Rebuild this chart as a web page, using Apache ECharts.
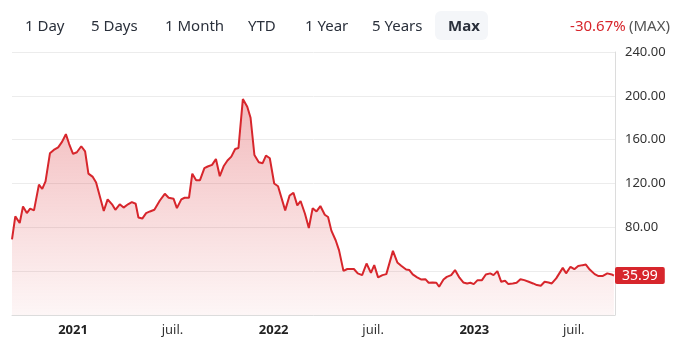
<!DOCTYPE html>
<html>
<head>
<meta charset="utf-8">
<script src="https://cdn.jsdelivr.net/npm/echarts@6/dist/echarts.min.js"></script>
<style>
html, body { margin: 0; padding: 0; background: #fff; }
#main { width: 673px; height: 353px; }
</style>
</head>
<body>
<div id="main"></div>
<script>
// weekly closes
var dates = ['2020-09-12','2020-09-18','2020-09-26','2020-10-02','2020-10-09','2020-10-15','2020-10-22','2020-10-31',
  '2020-11-06','2020-11-12','2020-11-20','2020-11-27','2020-12-05','2020-12-12','2020-12-19','2020-12-25',
  '2021-01-01','2021-01-08','2021-01-16','2021-01-23','2021-01-29','2021-02-06','2021-02-12','2021-02-26',
  '2021-03-05','2021-03-13','2021-03-19','2021-03-27','2021-04-03','2021-04-11','2021-04-18','2021-04-25',
  '2021-04-30','2021-05-07','2021-05-14','2021-05-21','2021-05-29','2021-06-08','2021-06-17','2021-06-24',
  '2021-07-03','2021-07-09','2021-07-17','2021-07-23','2021-07-31','2021-08-06','2021-08-13','2021-08-20',
  '2021-08-28','2021-09-03','2021-09-11','2021-09-18','2021-09-25','2021-10-02','2021-10-09','2021-10-16',
  '2021-10-23','2021-10-29','2021-11-06','2021-11-14','2021-11-20','2021-11-27','2021-12-05','2021-12-12',
  '2021-12-18','2021-12-25','2022-01-02','2022-01-09','2022-01-22','2022-01-30','2022-02-06','2022-02-13',
  '2022-02-19','2022-02-27','2022-03-06','2022-03-13','2022-03-20','2022-03-27','2022-04-04','2022-04-10',
  '2022-04-16','2022-04-24','2022-04-30','2022-05-08','2022-05-15','2022-05-27','2022-06-03','2022-06-11',
  '2022-06-19','2022-06-27','2022-07-03','2022-07-10','2022-07-18','2022-07-25','2022-08-06','2022-08-14',
  '2022-08-21','2022-08-30','2022-09-05','2022-09-11','2022-09-19','2022-09-26','2022-10-04','2022-10-10',
  '2022-10-17','2022-10-24','2022-10-29','2022-11-06','2022-11-12','2022-11-20','2022-11-27','2022-12-05',
  '2022-12-12','2022-12-19','2022-12-25','2022-12-31','2023-01-07','2023-01-15','2023-01-22','2023-01-30',
  '2023-02-05','2023-02-12','2023-02-19','2023-02-26','2023-03-04','2023-03-12','2023-03-19','2023-03-26',
  '2023-04-02','2023-04-10','2023-04-18','2023-04-25','2023-05-02','2023-05-09','2023-05-16','2023-05-22',
  '2023-05-30','2023-06-11','2023-06-17','2023-06-25','2023-07-02','2023-07-09','2023-07-17','2023-07-23',
  '2023-07-30','2023-08-08','2023-08-15','2023-08-23','2023-08-31','2023-09-08','2023-09-12'];
var prices = [69,90,84,99,93,97,95.5,119,
  115,122,147.5,150.6,153,158,165,156,
  147,148.5,154,149.4,129,126,121,95,
  105.5,101,96,101,98,101,103,101.5,
  89,88,93,94.5,96,104.5,110.6,107,
  106,97.5,105.5,107,107,129,123,123,
  134,135.5,137,142.4,126.7,135.7,141,144.5,
  151.5,152.4,197,190,180,146,139.4,138.5,
  145.5,143,120,117.5,95.5,109,111.5,100,
  104,92.4,79.4,97.5,94.5,99.4,91.5,89.4,
  77,68,59,40.3,42,42,38,36.4,
  47,38.5,45.5,34.3,36.4,37.3,58.5,48,
  45,41.5,41,37,34.3,32.4,32.7,29.4,
  29.7,29.4,25.8,32.4,34.8,36.4,41,34,
  29.7,28.8,29.4,28.2,31.8,31.8,37,38,
  36.4,40,30.3,31.2,28.2,28.8,29.4,32.7,
  31.8,30.3,28.8,27.3,26.7,30.3,29.7,28.8,
  33.4,43,38,44,41.8,44.8,45.5,46,
  41.5,37.3,35.5,35.7,38,37,35.99];
var xTicks = ['2021-01-01','2021-07-01','2022-01-01','2022-07-01','2023-01-01','2023-07-01'];
var ranges = ['1 Day','5 Days','1 Month','YTD','1 Year','5 Years','Max'];
var lastPrice = 35.99;
var changeText = '-30.67%';

function ts(s) { return new Date(s + 'T00:00:00').getTime(); }

var red = '#d7262c';
var font = '"Noto Sans", "Open Sans", sans-serif';

var rangeX = [25, 91, 165, 248, 305, 372, 448];
var graphics = [{
  type: 'rect', shape: { x: 435, y: 11, width: 53, height: 29, r: 6 },
  style: { fill: '#f4f6f9' }
}];
ranges.forEach(function (r, i) {
  graphics.push({
    type: 'text', x: rangeX[i], y: 27,
    style: {
      text: r, fill: '#2a303b', font: (r === 'Max' ? 'bold ' : '') + '15px ' + font,
      verticalAlign: 'middle'
    }
  });
});
graphics.push({
  type: 'text', x: 670, y: 27,
  style: {
    text: '{r|' + changeText + '} {g|(MAX)}', align: 'right', verticalAlign: 'middle',
    rich: {
      r: { fill: red, fontSize: 15, fontFamily: font },
      g: { fill: '#555', fontSize: 15, fontFamily: font }
    }
  }
});

var chart = echarts.init(document.getElementById('main'));
chart.setOption({
  animation: false,
  textStyle: { fontFamily: font },
  graphic: graphics,
  grid: { left: 12, right: 58, top: 52, bottom: 38 },
  xAxis: {
    type: 'value',
    min: ts('2020-09-12'),
    max: ts('2023-09-14'),
    axisLine: { show: true, lineStyle: { color: '#dcdcdc' } },
    axisTick: { show: false },
    splitLine: { show: false },
    axisLabel: {
      customValues: xTicks.map(ts),
      margin: 9,
      color: '#333',
      fontSize: 13,
      formatter: function (v) {
        var d = new Date(v);
        return d.getMonth() === 0 ? '{y|' + d.getFullYear() + '}' : 'juil.';
      },
      rich: { y: { fontWeight: 'bold', fontSize: 13, color: '#222' } }
    }
  },
  yAxis: {
    type: 'value',
    position: 'right',
    min: 0,
    max: 240,
    interval: 40,
    axisLine: { show: true, lineStyle: { color: '#dcdcdc' } },
    axisTick: { show: false },
    splitLine: { lineStyle: { color: '#ececec' } },
    axisLabel: {
      margin: 10,
      color: '#333',
      fontSize: 13,
      formatter: function (v) { return v >= 80 ? v.toFixed(2) : ''; }
    }
  },
  series: [{
    type: 'line',
    clip: false,
    data: dates.map(function (d, i) { return [ts(d), prices[i]]; }),
    symbol: 'none',
    lineStyle: { color: red, width: 2 },
    areaStyle: {
      color: new echarts.graphic.LinearGradient(0, 0, 0, 1, [
        { offset: 0, color: 'rgba(215,38,44,0.45)' },
        { offset: 1, color: 'rgba(215,38,44,0.06)' }
      ])
    },
    markLine: {
      silent: true,
      symbol: 'none',
      lineStyle: { color: 'rgba(0,0,0,0)', width: 0 },
      data: [{ yAxis: lastPrice }],
      label: {
        show: true,
        position: 'end',
        distance: 0,
        formatter: lastPrice.toFixed(2),
        backgroundColor: red,
        color: '#fff',
        fontSize: 14,
        padding: [2, 7, 1, 7],
        borderRadius: 2
      }
    }
  }]
});
</script>
</body>
</html>
